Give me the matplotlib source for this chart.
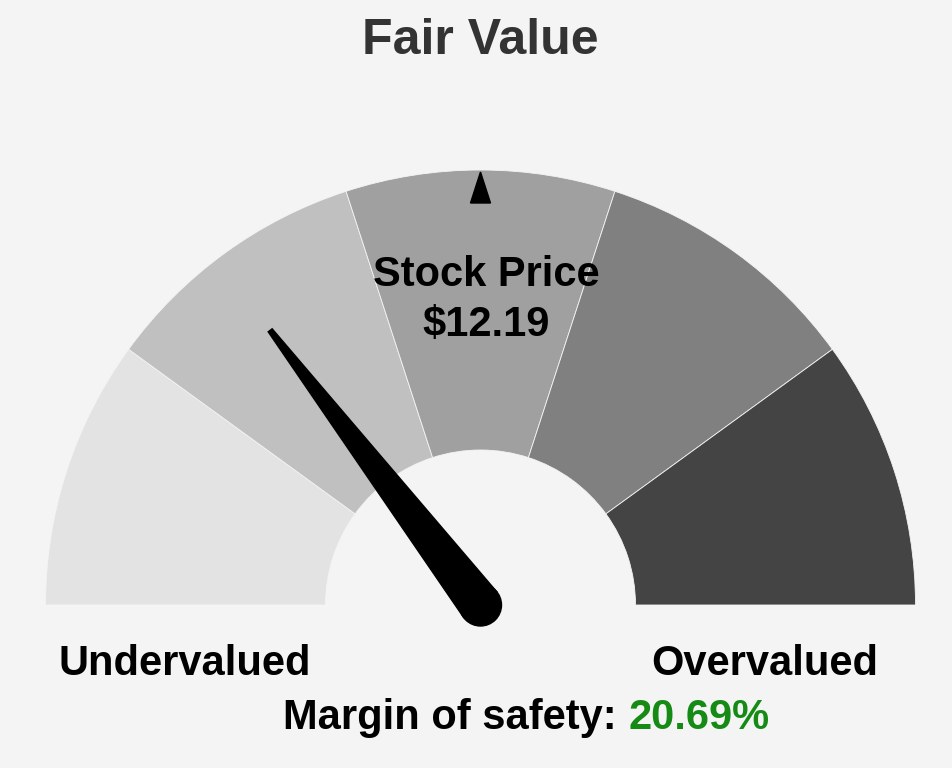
import numpy as np
import matplotlib.pyplot as plt
from matplotlib.patches import Wedge, Polygon, Circle

# gauge data
segment_colors = ['#e3e3e3', '#c0c0c0', '#a0a0a0', '#808080', '#444444']
needle_pos = 0.292          # fraction of the dial, 0 = far left, 1 = far right
stock_price = 12.19
margin_of_safety = 20.69
side_labels = ['Undervalued', 'Overvalued']

bg = '#f4f4f4'
plt.rcParams['font.family'] = ['Liberation Sans', 'DejaVu Sans']

fig = plt.figure(figsize=(9.52, 7.68), dpi=100, facecolor=bg)
ax = fig.add_axes([0, 0, 1, 1])
ax.set_facecolor(bg)
ax.set_xlim(0, 952)
ax.set_ylim(0, 768)
ax.set_aspect('equal')
ax.axis('off')

cx, cy = 480.5, 163
r_out, r_in = 435, 155
n = len(segment_colors)
step = 180.0 / n
for i, c in enumerate(segment_colors):
    a1 = 180 - (i + 1) * step
    a2 = 180 - i * step
    ax.add_patch(Wedge((cx, cy), r_out, a1, a2, width=r_out - r_in,
                       facecolor=c, edgecolor=bg, linewidth=0.6))

# top marker
ax.add_patch(Polygon([[cx - 10, cy + r_out - 33], [cx + 10, cy + r_out - 33],
                      [cx, cy + r_out - 2]], closed=True, color='black'))

# needle
ang = np.radians(180 - needle_pos * 180)
L = 346
base_w = 21
tip_w = 2.5
ux, uy = np.cos(ang), np.sin(ang)
px, py = -uy, ux
pts = [[cx + px * base_w, cy + py * base_w],
       [cx + ux * L + px * tip_w, cy + uy * L + py * tip_w],
       [cx + ux * L - px * tip_w, cy + uy * L - py * tip_w],
       [cx - px * base_w, cy - py * base_w]]
ax.add_patch(Polygon(pts, closed=True, color='black'))
ax.add_patch(Circle((cx, cy), base_w, color='black'))

ax.text(480, 727, 'Fair Value', ha='center', va='center', fontsize=36,
        fontweight='bold', color='#333333')
ax.text(486, 468, 'Stock Price\n$%.2f' % stock_price, ha='center', va='center',
        fontsize=30, fontweight='bold', color='black', linespacing=1.3)
ax.text(185, 104, side_labels[0], ha='center', va='center', fontsize=30,
        fontweight='bold', color='black')
ax.text(765, 104, side_labels[1], ha='center', va='center', fontsize=30,
        fontweight='bold', color='black')

ax.text(628, 50, 'Margin of safety: ', ha='right', va='center',
        fontsize=30, fontweight='bold', color='black')
ax.text(628, 50, '%.2f%%' % margin_of_safety, ha='left', va='center',
        fontsize=30, fontweight='bold', color='#158a15')

fig.savefig('out.png', dpi=100, facecolor=bg)
